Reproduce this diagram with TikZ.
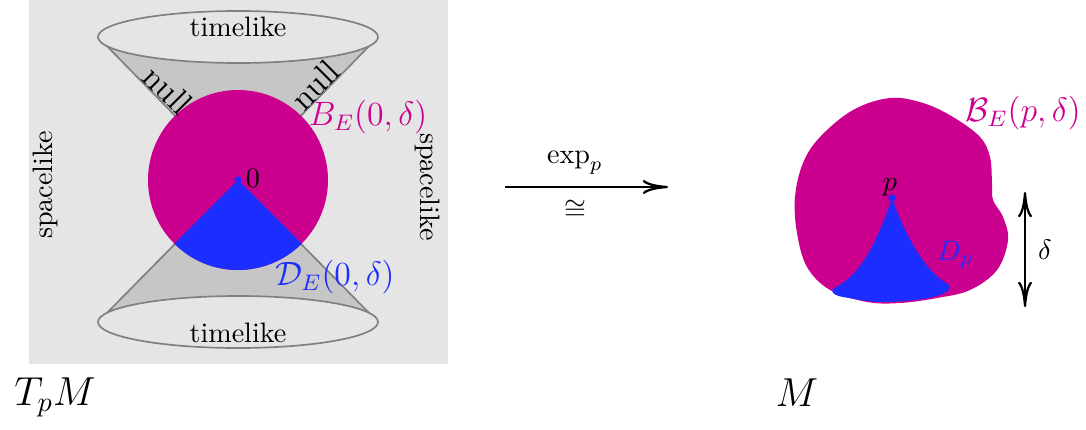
\documentclass[tikz,border=0pt]{standalone}
\usepackage{amsmath,amssymb}
\usetikzlibrary{arrows.meta}
\definecolor{ballmag}{RGB}{204,0,143}
\definecolor{diamblue}{RGB}{28,46,255}
\begin{document}
\begin{tikzpicture}[cone/.style={draw=gray, line width=0.6pt}, mapto/.style={thick, -{To[length=9pt, width=5pt]}}]
\useasboundingbox (0,0) rectangle (13.575,5.3625);
% tangent space
\fill[gray!20] (0.3625,0.8125) rectangle (5.6,5.3625);
\coordinate (o) at (2.975,3.1125);
\draw[cone, fill=gray!45] (1.225,4.9) -- (o) -- (4.725,4.9); \draw[cone, fill=gray!20] (2.975,4.9) ellipse [x radius=1.75, y radius=0.325];
\draw[cone, fill=gray!45] (1.225,1.3375) -- (o) -- (4.725,1.3375); \draw[cone, fill=gray!20] (2.975,1.3375) ellipse [x radius=1.75, y radius=0.325];
\fill[ballmag] (o) circle (1.125);
\fill[diamblue] (o) -- ++(225:1.125) arc[start angle=225, end angle=315, radius=1.125] -- cycle;
\fill[diamblue] (o) circle (0.045);
\node (zero) at (3.1625,3.1375) {$0$};
\node (tltop) at (2.975,5.025) {timelike};
\node (tlbot) at (2.975,1.2) {timelike};
\node[rotate=-45, font=\large, inner sep=0pt] (nullleft) at (2.1,4.2375) {null};
\node[rotate=45, font=\large, inner sep=0pt] (nullright) at (3.9375,4.3) {null};
\node[rotate=90] (slleft) at (0.5625,3.05) {spacelike};
\node[rotate=-90] (slright) at (5.35,3.025) {spacelike};
\node[text=ballmag, font=\large] (ball) at (4.6,3.9) {$B_E(0,\delta)$};
\node[text=diamblue, font=\large] (diam) at (4.1875,1.9) {$\mathcal{D}_E(0,\delta)$};
\node[font=\Large] (tpm) at (0.6875,0.4) {$T_pM$};
% exponential map
\coordinate (expstart) at (6.3125,3.025); \coordinate (expend) at (8.35,3.025);
\draw[mapto] (expstart) -- (expend);
\node (explabel) at (7.1875,3.325) {$\exp_p$};
\node (iso) at (7.1875,2.7375) {$\cong$};
% manifold
\fill[ballmag] plot[smooth cycle, tension=0.6] coordinates {(11.125,4.1375) (11.5375,4.075) (11.9125,3.9) (12.25,3.65) (12.375,3.4) (12.4,3.075) (12.4125,2.8625) (12.5375,2.65) (12.6,2.3625) (12.4625,1.9875) (12.125,1.7375) (11.7125,1.6375) (11.25,1.575) (10.8375,1.5875) (10.375,1.7375) (10.0875,2.025) (9.9625,2.45) (9.9375,2.9) (10.0375,3.325) (10.25,3.65) (10.6625,3.9875)};
\coordinate (p) at (11.15,2.8875);
\fill[diamblue] (p) .. controls (11.0,2.45) and (10.8,1.95) .. (10.45,1.775) .. controls (10.35,1.72) and (10.42,1.66) .. (10.6,1.64) .. controls (10.8,1.6) and (10.95,1.585) .. (11.0,1.5875) .. controls (11.3,1.59) and (11.7,1.62) .. (11.84,1.72) .. controls (11.9,1.78) and (11.85,1.82) .. (11.8,1.84) .. controls (11.55,2.0) and (11.3,2.45) .. (p);
\fill[diamblue] (p) circle (0.045);
\node (plabel) at (11.125,3.025) {$p$};
\node[text=diamblue] (dp) at (11.9375,2.175) {$D_p$};
\node[text=ballmag, font=\large] (bigball) at (12.7875,3.95) {$\mathcal{B}_E(p,\delta)$};
\node[font=\Large] (mlabel) at (9.9625,0.45) {$M$};
\coordinate (dtop) at (12.8125,2.9625); \coordinate (dbot) at (12.8125,1.525);
\draw[mapto, {To[length=9pt, width=5pt]}-{To[length=9pt, width=5pt]}] (dtop) -- (dbot);
\node (delta) at (13.0625,2.2375) {$\delta$};
\end{tikzpicture}
\end{document}
